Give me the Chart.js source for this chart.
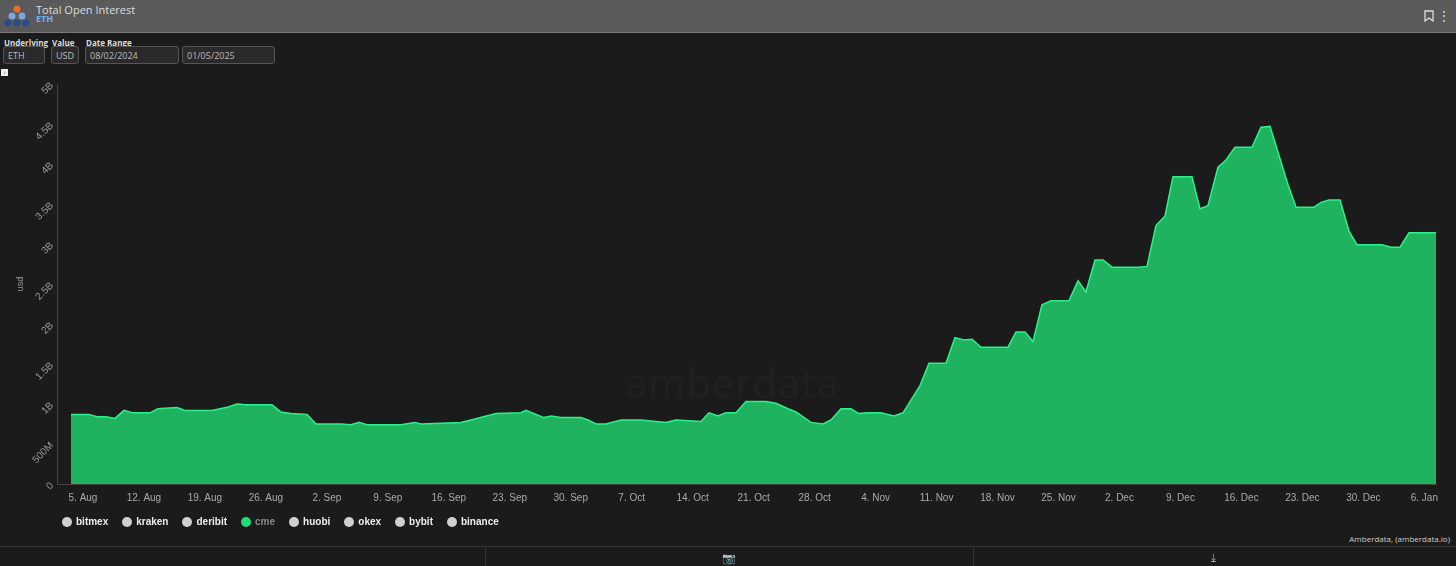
<!DOCTYPE html>
<html><head><meta charset="utf-8">
<script src="https://cdn.jsdelivr.net/npm/chart.js@4"></script>
<style>
body{margin:0;width:1456px;height:566px;background:#1b1b1b;font-family:"Open Sans",Arial,sans-serif;overflow:hidden;position:relative;color:#ccc}
#hdr{position:absolute;left:0;top:0;width:1456px;height:32px;background:#5a5a5a;border-bottom:1px solid #777}
#t1{position:absolute;left:36px;top:2px;font-size:11px;color:#ddd}
#t2{position:absolute;left:36px;top:12px;font-size:9px;color:#6fb3ff;font-weight:bold}
.lab{position:absolute;top:37px;font-size:8px;font-weight:bold;color:#ddd}
.box{position:absolute;top:46px;height:18px;border:1px solid #555;border-radius:3px;background:#2a2a2a;font-size:9px;color:#bbb;line-height:18px;padding-left:4px;box-sizing:border-box}
#wrap{position:absolute;left:0;top:78px;width:1456px;height:440px}
#foot{position:absolute;left:0;top:546px;width:1456px;height:20px;border-top:1px solid #333}
#cred{position:absolute;right:6px;top:533px;font-size:8px;color:#ccc}
#wm{position:absolute;left:625px;top:355px;font-size:40px;color:#202020;letter-spacing:1px}
#leg{position:absolute;left:62px;top:516px;font:bold 10px Arial;color:#eee;display:flex}
#leg span{display:flex;align-items:center;margin-right:14px}
#leg i{display:inline-block;width:10px;height:10px;border-radius:50%;background:#d0d0d0;margin-right:4px}
</style></head><body>
<div id="hdr">
<svg style="position:absolute;left:4px;top:4px" width="26" height="24"><circle cx="13" cy="5" r="3.5" fill="#f36c21"/><circle cx="8" cy="12" r="3.5" fill="#7aa7e0"/><circle cx="18" cy="12" r="3.5" fill="#7aa7e0"/><circle cx="4" cy="19" r="3.5" fill="#2a4a8a"/><circle cx="13" cy="19" r="3.5" fill="#2a4a8a"/><circle cx="22" cy="19" r="3.5" fill="#2a4a8a"/></svg>
<div id="t1">Total Open Interest</div><div id="t2">ETH</div>
<svg style="position:absolute;right:22px;top:10px" width="10" height="12"><path d="M1 1h8v10l-4-3-4 3z" fill="none" stroke="#ddd" stroke-width="1.3"/></svg>
<div style="position:absolute;right:6px;top:7px;font-size:12px;color:#ddd">⋮</div>
</div>
<div class="lab" style="left:4px">Underlying</div><div class="lab" style="left:52px">Value</div><div class="lab" style="left:86px">Date Range</div>
<div class="box" style="left:3px;width:42px">ETH</div>
<div class="box" style="left:51px;width:28px">USD</div>
<div class="box" style="left:85px;width:94px">08/02/2024</div>
<div class="box" style="left:182px;width:93px">01/05/2025</div>
<div style="position:absolute;left:1px;top:69px;width:7px;height:7px;background:#eee;font-size:6px;color:#333;line-height:7px;text-align:center">›</div>
<div id="wm">amberdata</div>
<div id="wrap"><canvas id="c"></canvas></div>
<div id="leg"></div>
<div id="cred">Amberdata, (amberdata.io)</div>
<div id="foot">
<div style="position:absolute;left:485px;top:0;height:20px;border-left:1px solid #333"></div>
<div style="position:absolute;left:973px;top:0;height:20px;border-left:1px solid #333"></div>
<div style="position:absolute;left:722px;top:3px;font-size:11px;color:#aaa">📷</div>
<div style="position:absolute;left:1211px;top:2px;font-size:11px;color:#aaa">⤓</div>
</div>
<script>
// day offsets from 5 Aug 2024
const days=[-1.38,0.69,1.61,2.64,3.67,4.71,5.63,7.69,8.61,10.79,11.71,14.81,16.42,17.68,18.71,21.70,22.73,23.88,25.72,26.75,29.62,30.77,31.69,32.61,36.51,38.12,38.81,43.40,44.55,47.42,50.29,50.86,52.93,53.73,54.88,57.18,57.98,58.90,60.05,61.77,64.06,66.93,68.08,70.95,71.87,72.90,73.82,74.97,76.12,78.42,79.56,80.94,81.86,83.58,84.96,85.88,87.03,88.17,89.09,90.01,91.60,93.11,94.15,94.95,96.10,97.13,99.08,100.11,101.15,102.07,103.10,106.20,107.12,108.15,109.07,110.10,111.14,113.20,114.24,115.15,116.19,117.11,118.14,121.13,122.16,123.19,124.23,125.14,127.32,128.24,129.16,130.31,131.23,132.26,134.21,135.25,136.28,138.35,139.27,141.33,142.14,143.05,144.32,145.35,146.27,149.14,150.17,151.21,152.24,155.34];
const cmeOI=[0.87,0.87,0.84,0.84,0.82,0.92,0.89,0.89,0.94,0.955,0.92,0.92,0.955,1.0,0.99,0.99,0.90,0.88,0.87,0.75,0.75,0.74,0.77,0.74,0.74,0.77,0.75,0.77,0.80,0.88,0.89,0.92,0.83,0.85,0.83,0.83,0.80,0.75,0.75,0.80,0.80,0.77,0.80,0.78,0.89,0.85,0.89,0.89,1.03,1.03,1.01,0.94,0.90,0.77,0.75,0.80,0.94,0.94,0.88,0.89,0.89,0.85,0.89,1.03,1.23,1.51,1.51,1.83,1.80,1.81,1.71,1.71,1.90,1.90,1.78,2.24,2.29,2.29,2.54,2.40,2.80,2.80,2.71,2.71,2.72,3.23,3.35,3.84,3.84,3.44,3.48,3.96,4.05,4.21,4.21,4.46,4.47,3.74,3.46,3.46,3.52,3.55,3.55,3.16,2.99,2.99,2.96,2.96,3.14,3.14];
const exchanges=["bitmex","kraken","deribit","cme","huobi","okex","bybit","binance"];
const tickLabels=["5. Aug","12. Aug","19. Aug","26. Aug","2. Sep","9. Sep","16. Sep","23. Sep","30. Sep","7. Oct","14. Oct","21. Oct","28. Oct","4. Nov","11. Nov","18. Nov","25. Nov","2. Dec","9. Dec","16. Dec","23. Dec","30. Dec","6. Jan"];
const yTicks=["0","500M","1B","1.5B","2B","2.5B","3B","3.5B","4B","4.5B","5B"];
document.getElementById('leg').innerHTML=exchanges.map(n=>n==="cme"?'<span style="color:#888"><i style="background:#22dd77"></i>'+n+'</span>':'<span><i></i>'+n+'</span>').join('');
const datasets=[{label:"cme",data:days.map((d,i)=>({x:d,y:cmeOI[i]*1e9})),fill:true,backgroundColor:"#1fb25f",borderColor:"#2ef08a",borderWidth:1.5,pointRadius:0,tension:0}];
new Chart(document.getElementById('c'),{type:'line',data:{datasets},
options:{responsive:true,maintainAspectRatio:false,animation:false,
layout:{padding:{left:15,right:20,top:4,bottom:12}},
plugins:{tooltip:{enabled:false},legend:{display:false}},
scales:{x:{type:'linear',min:-2.87,max:155.34,grid:{display:false,tickColor:'#444',tickLength:6},border:{color:'#444'},
 afterBuildTicks:a=>{a.ticks=tickLabels.map((t,i)=>({value:i*7}));},
 ticks:{color:'#aaa',padding:2,font:{size:10,family:'Arial'},maxRotation:0,autoSkip:false,callback:(v)=>tickLabels[Math.round(v/7)]}},
 y:{min:0,max:5e9,grid:{display:false,tickColor:'#444',tickLength:6},border:{color:'#444'},
 afterBuildTicks:a=>{a.ticks=yTicks.map((t,i)=>({value:i*5e8}));},
 ticks:{color:'#999',padding:0,font:{size:10,family:'Arial'},minRotation:45,maxRotation:45,callback:(v)=>yTicks[Math.round(v/5e8)]},
 title:{display:true,text:'usd',color:'#999',padding:0,font:{size:9}}}}}});
</script>
</body></html>
